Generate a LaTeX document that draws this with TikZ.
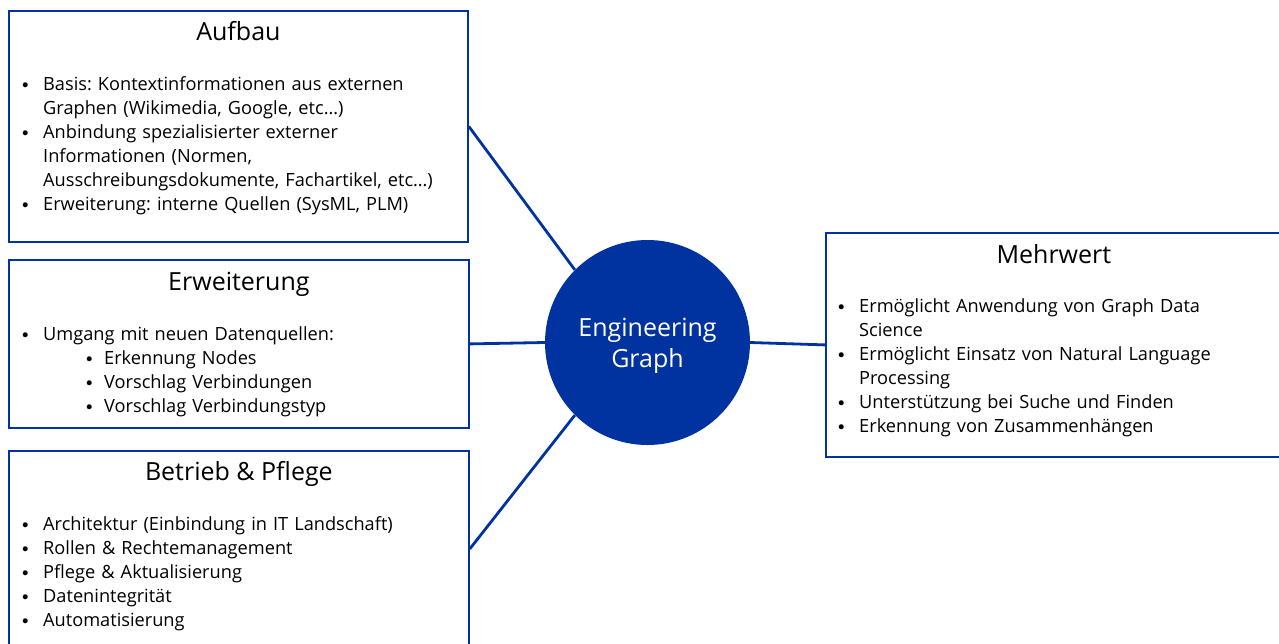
\documentclass[tikz,border=0pt]{standalone}
\usepackage{fontspec}
\setmainfont{Open Sans}
\usepackage{graphicx}
\usepackage{enumitem}
\usetikzlibrary{positioning}
\definecolor{egblue}{HTML}{0033A0}
\frenchspacing
\newcommand{\egdot}{\raisebox{1.5pt}{\scalebox{0.75}{$\bullet$}}}
\setlist[itemize,1]{nosep, leftmargin=21pt, labelwidth=21pt, labelsep=0pt, align=left, label=\egdot}
\setlist[itemize,2]{nosep, leftmargin=61pt, labelwidth=18pt, labelsep=0pt, align=left, label=\egdot}

\begin{document}
\begin{tikzpicture}[
    x=1pt, y=-1pt,
    box/.style={draw=egblue, line width=1.8pt, anchor=north west, inner sep=0pt},
    title/.style={anchor=base, inner sep=0pt, font=\fontsize{25}{30}\selectfont},
    body/.style={anchor=base west, inner sep=0pt, text width=440pt, align=left, font=\fontsize{18.2}{24}\selectfont},
    link/.style={draw=egblue, line width=2.8pt}
]
   \useasboundingbox (0,0) rectangle (1279,643);

   % Boxes
   \node[box, minimum width=459pt, minimum height=231pt] (aufbau) at (8,10) {};
   \node[box, minimum width=460pt, minimum height=168pt] (erweiterung) at (8,259) {};
   \node[box, minimum width=460pt, minimum height=196pt] (betrieb) at (8,450) {};
   \node[box, minimum width=456pt, minimum height=224pt] (mehrwert) at (825,232) {};

   % Center
   \node[circle, fill=egblue, minimum size=205pt, inner sep=0pt] (eg) at (647.5,342.5) {};
   \node[text=white, align=center, font=\fontsize{25}{30.5}\selectfont] (egtext)
         at ([yshift=-3.5pt]eg.center) {Engineering\\Graph};

   % Titles
   \node[title] at ([yshift=-30pt]aufbau.north) {Aufbau};
   \node[title] at ([yshift=-31pt]erweiterung.north) {Erweiterung};
   \node[title] at ([yshift=-30pt]betrieb.north) {Betrieb \& Pflege};
   \node[title] at ([yshift=-31pt]mehrwert.north) {Mehrwert};

   % Contents
   \node[body] (aufbautext) at ([xshift=14pt, yshift=-56pt]aufbau.north west) {%
     \begin{itemize}
       \item Basis: Kontextinformationen aus externen\\Graphen (Wikimedia, Google, etc\dots)
       \item Anbindung spezialisierter externer\\Informationen (Normen,\\Ausschreibungsdokumente, Fachartikel, etc\dots)
       \item Erweiterung: interne Quellen (SysML, PLM)
     \end{itemize}};
   \node[body] (erweiterungtext) at ([xshift=14pt, yshift=-57pt]erweiterung.north west) {%
     \begin{itemize}
       \item Umgang mit neuen Datenquellen:
       \begin{itemize}
         \item Erkennung Nodes
         \item Vorschlag Verbindungen
         \item Vorschlag Verbindungstyp
       \end{itemize}
     \end{itemize}};
   \node[body] (betriebtext) at ([xshift=14pt, yshift=-56pt]betrieb.north west) {%
     \begin{itemize}
       \item Architektur (Einbindung in IT Landschaft)
       \item Rollen \& Rechtemanagement
       \item Pflege \& Aktualisierung
       \item Datenintegrität
       \item Automatisierung
     \end{itemize}};
   \node[body] (mehrwerttext) at ([xshift=13pt, yshift=-56pt]mehrwert.north west) {%
     \begin{itemize}
       \item Ermöglicht Anwendung von Graph Data\\Science
       \item Ermöglicht Einsatz von Natural Language\\Processing
       \item Unterstützung bei Suche und Finden
       \item Erkennung von Zusammenhängen
     \end{itemize}};

   % Connections
   \draw[link] (aufbau.east) -- (eg.135);
   \draw[link] (erweiterung.east) -- (eg.west);
   \draw[link] (betrieb.east) -- (eg.225);
   \draw[link] (eg.east) -- (mehrwert.west);
\end{tikzpicture}
\end{document}
